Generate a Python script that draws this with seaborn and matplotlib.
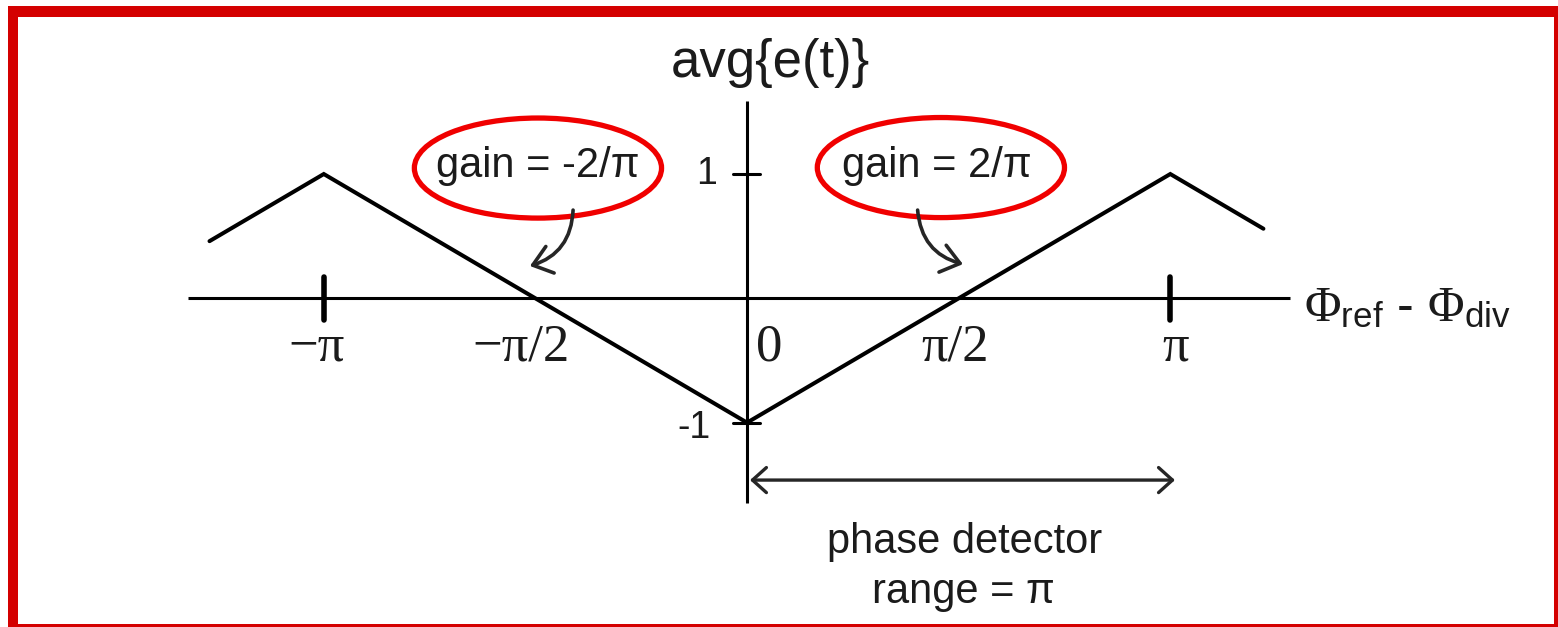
import numpy as np
import pandas as pd
import matplotlib
matplotlib.use("Agg")
import matplotlib.pyplot as plt
from matplotlib.patches import Ellipse, Rectangle, FancyArrowPatch
import seaborn as sns

# Average phase-detector output vs. phase error (phase in multiples of pi)
phase_pi = [-1.27, -1.0, 0.0, 1.0, 1.22]
avg_e = [0.46, 1.0, -1.0, 1.0, 0.56]

x_tick_pos = [-1.0, -0.5, 0.0, 0.5, 1.0]
x_tick_labels = ["\u2212\u03c0", "\u2212\u03c0/2", "0", "\u03c0/2", "\u03c0"]
y_tick_pos = [1.0, -1.0]
y_tick_labels = ["1", "-1"]

gain_labels = ["gain = -2/\u03c0", "gain = 2/\u03c0"]
range_label = "phase detector\nrange = \u03c0"

sns.set_style("white")
plt.rcParams["font.family"] = ["Liberation Sans", "DejaVu Sans"]
plt.rcParams["mathtext.fontset"] = "custom"
plt.rcParams["mathtext.rm"] = "Liberation Serif"
plt.rcParams["mathtext.it"] = "Liberation Serif:italic"
plt.rcParams["mathtext.sf"] = "Liberation Sans"

INK = "#1b1b1b"
RED = "#f00000"
SERIF = ["Liberation Serif", "DejaVu Serif"]

W, H = 1558, 627
fig = plt.figure(figsize=(W / 100, H / 100), dpi=100)
ax = fig.add_axes([0, 0, 1, 1])
ax.set_xlim(-1.765, 1.916)
ax.set_ylim(-2.644, 2.400)
ax.set_axis_off()

# coordinate axes
ax.plot([-1.321, 1.283], [0, 0], color="black", lw=2.2, solid_capstyle="butt")
ax.plot([0, 0], [-1.647, 1.587], color="black", lw=2.2, solid_capstyle="butt")

# the triangular characteristic
df = pd.DataFrame({"phase": phase_pi, "avg": avg_e})
sns.lineplot(data=df, x="phase", y="avg", ax=ax, color="black", lw=2.9,
             sort=False, estimator=None)
ax.lines[-1].set_solid_joinstyle("miter")

# x ticks at +/- pi
for xt in (-1.0, 1.0):
    ax.plot([xt, xt], [-0.175, 0.175], color="black", lw=4.0,
            solid_capstyle="round")
# y ticks at +/- 1
for yt in y_tick_pos:
    ax.plot([-0.033, 0.031], [yt, yt], color="black", lw=2.2)

# x tick labels
x_nudge = [-0.017, -0.034, 0.052, -0.008, 0.013]
for xt, lab, dx in zip(x_tick_pos, x_tick_labels, x_nudge):
    ax.text(xt + dx, -0.50, lab, family=SERIF, fontsize=38, color=INK,
            ha="center", va="baseline")

# y tick labels
for yt, lab, dx, dy in zip(y_tick_pos, y_tick_labels, [-0.071, -0.085], [0.0, -0.047]):
    ax.text(dx, yt + dy, lab, fontsize=27, color=INK, ha="right", va="center")

# axis titles
ax.text(0.054, 1.78, "avg{e(t)}", fontsize=38, color=INK, ha="center",
        va="baseline")
ax.text(1.317, -0.183,
        r"$\Phi_{\mathsf{ref}}$" + " - " + r"$\Phi_{\mathsf{div}}$",
        fontsize=36, color=INK, ha="left", va="baseline")

# gain annotations with red ellipses
for (cx, cy), (tx, ty), lab in zip([(-0.494, 1.048), (0.458, 1.052)],
                                   [(-0.495, 0.976), (0.448, 0.976)],
                                   gain_labels):
    ax.add_patch(Ellipse((cx, cy), 0.584, 0.805, fill=False, ec=RED, lw=3.8))
    ax.text(tx, ty, lab, fontsize=30, color=INK, ha="center", va="baseline")

# curved pointers from the ellipses to the slopes
for (x0, y0), (x1, y1), rad in zip([(-0.411, 0.710), (0.403, 0.710)],
                                   [(-0.513, 0.260), (0.510, 0.275)],
                                   [-0.35, 0.35]):
    ax.add_patch(FancyArrowPatch((x0, y0), (x1, y1),
                                 connectionstyle=f"arc3,rad={rad}",
                                 arrowstyle="->,head_length=0.65,head_width=0.5",
                                 mutation_scale=20, color="#262626", lw=2.6,
                                 shrinkA=0, shrinkB=0))

# detector range
ax.add_patch(FancyArrowPatch((0.007, -1.462), (1.011, -1.462),
                             arrowstyle="<->,head_length=0.5,head_width=0.45",
                             mutation_scale=20, color="#262626", lw=2.4,
                             shrinkA=0, shrinkB=0))
ax.text(0.513, -2.05, range_label.split("\n")[0], fontsize=30, color=INK,
        ha="center", va="baseline")
ax.text(0.512, -2.45, range_label.split("\n")[1], fontsize=30, color=INK,
        ha="center", va="baseline")

# red frame around the figure
FRAME = "#d40000"
for x0, y0, x1, y1 in [(8, 6, 1558, 17), (8, 6, 18, 627),
                       (1554, 6, 1558, 627), (8, 624, 1558, 627)]:
    fig.add_artist(Rectangle((x0 / W, 1 - y1 / H), (x1 - x0) / W,
                             (y1 - y0) / H, transform=fig.transFigure,
                             color=FRAME, lw=0))

fig.savefig("out.png", dpi=100)
